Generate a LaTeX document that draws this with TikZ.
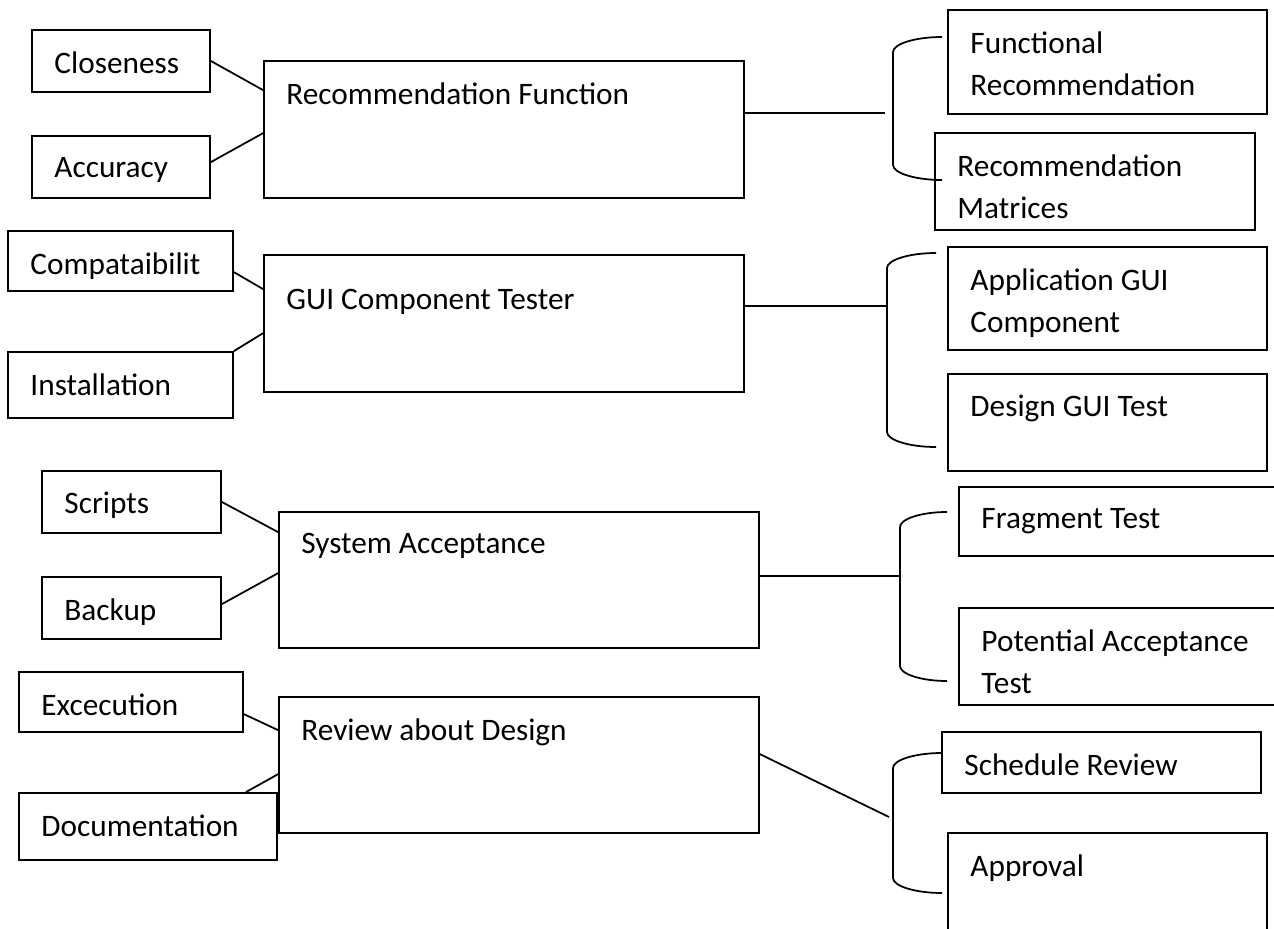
\documentclass[tikz,border=0pt]{standalone}
\usepackage{fontspec}
\setmainfont{Carlito}
\usetikzlibrary{fit,calc}

\begin{document}
\begin{tikzpicture}[
  x=0.02cm, y=-0.02cm,
  font=\fontsize{17.8}{24}\selectfont,
  box/.style={rectangle, draw, line width=1pt, inner sep=0pt},
  txt/.style={anchor=north west, align=left, inner sep=0pt, xshift=0.46cm, yshift=-0.44cm},
  txtlow/.style={txt, yshift=-0.26cm},
  link/.style={line width=1pt},
  brace/.style={line width=1pt}
]
  \useasboundingbox (0,0) rectangle (1274,929);
  \clip (0,0) rectangle (1274,929);

  % main boxes
  \node[box, fit={(264,61) (744,198)}, label={[txt]north west:Recommendation Function}] (recfun) {};
  \node[box, fit={(264,255) (744,392)}, label={[txtlow]north west:GUI Component Tester}] (guitest) {};
  \node[box, fit={(279,512) (759,648)}, label={[txt]north west:System Acceptance}] (sysacc) {};
  \node[box, fit={(279,697) (759,833)}, label={[txt]north west:Review about Design}] (review) {};

  % left boxes
  \node[box, fit={(32,30) (210,92)}, label={[txt]north west:Closeness}] (close) {};
  \node[box, fit={(32,136) (210,198)}, label={[txt]north west:Accuracy}] (accur) {};
  \node[box, fit={(8,231) (233,291)}, label={[txt]north west:Compataibilit}] (compat) {};
  \node[box, fit={(8,352) (233,418)}, label={[txt]north west:Installation}] (install) {};
  \node[box, fit={(42,471) (221,533)}, label={[txt]north west:Scripts}] (scripts) {};
  \node[box, fit={(42,577) (221,639)}, label={[txt]north west:Backup}] (backup) {};
  \node[box, fit={(19,672) (243,732)}, label={[txt]north west:Excecution}] (exec) {};
  \node[box, fit={(19,793) (277,860)}, label={[txt]north west:Documentation}] (docu) {};

  % right boxes
  \node[box, fit={(948,10) (1267,114)}, label={[txt]north west:{Functional\\Recommendation}}] (funcrec) {};
  \node[box, fit={(935,133) (1255,230)}, label={[txt]north west:{Recommendation\\Matrices}}] (recmat) {};
  \node[box, fit={(948,247) (1267,350)}, label={[txt]north west:{Application GUI\\Component}}] (appgui) {};
  \node[box, fit={(948,374) (1267,471)}, label={[txt]north west:Design GUI Test}] (desgui) {};
  \node[box, fit={(959,487) (1290,556)}, label={[txt]north west:Fragment Test}] (fragtest) {};
  \node[box, fit={(959,608) (1290,705)}, label={[txt]north west:{Potential Acceptance\\Test}}] (potacc) {};
  \node[box, fit={(942,732) (1261,793)}, label={[txt]north west:Schedule Review}] (schedrev) {};
  \node[box, fit={(948,833) (1267,960)}, label={[txt]north west:Approval}] (approval) {};

  % left links
  \draw[link] (close.east) -- ($(recfun.north west)+(0,30)$);
  \draw[link] ($(accur.north east)+(0,27)$) -- ($(recfun.north west)+(0,73)$);
  \draw[link] ($(compat.north east)+(0,42)$) -- ($(guitest.north west)+(0,35)$);
  \draw[link] (install.north east) -- ($(guitest.north west)+(0,79)$);
  \draw[link] (scripts.east) -- ($(sysacc.north west)+(0,21)$);
  \draw[link] ($(backup.north east)+(0,28)$) -- ($(sysacc.north west)+(0,62)$);
  \draw[link] ($(exec.north east)+(0,43)$) -- ($(review.north west)+(0,34)$);
  \draw[link] ($(docu.north east)+(-32,0)$) -- ($(review.north west)+(0,78)$);

  % right links
  \coordinate (b1) at (885,113);
  \coordinate (b2) at (887,306);
  \coordinate (b3) at (900,576);
  \coordinate (b4) at (889,817);
  \draw[link] (b1 -| recfun.east) -- (b1);
  \draw[link] (b2 -| guitest.east) -- (b2);
  \draw[link] (b3 -| sysacc.east) -- (b3);
  \draw[link] ($(review.north east)+(0,58)$) -- (b4);

  % braces
  \draw[brace] (942,37) .. controls (915,37) and (893,44) .. (893,52) -- (893,165) .. controls (893,173) and (915,180) .. (942,180);
  \draw[brace] (936,253) .. controls (909,253) and (887,260) .. (887,268) -- (887,432) .. controls (887,440) and (909,447) .. (936,447);
  \draw[brace] (947,512) .. controls (921,512) and (900,519) .. (900,527) -- (900,666) .. controls (900,674) and (921,681) .. (947,681);
  \draw[brace] (942,753) .. controls (915,753) and (893,760) .. (893,768) -- (893,878) .. controls (893,886) and (915,893) .. (942,893);
\end{tikzpicture}
\end{document}
